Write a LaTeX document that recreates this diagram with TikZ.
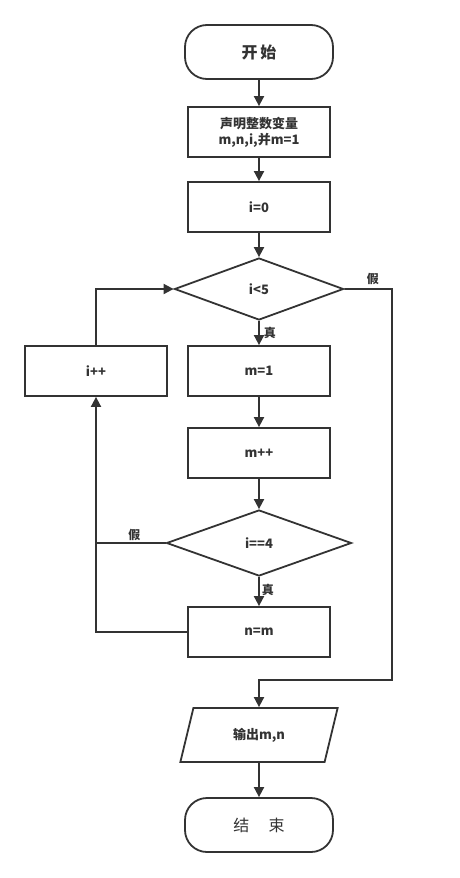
\documentclass[tikz,border=0pt]{standalone}
\usepackage{fontspec}
\setmainfont{Noto Sans CJK SC}
\usetikzlibrary{arrows.meta,shapes.geometric,calc}
\definecolor{ln}{HTML}{333333}
\tikzset{
  base/.style={draw=ln,line width=1.8pt,text=ln,font=\fontsize{13}{16}\selectfont\bfseries,align=center,inner sep=0pt},
  proc/.style={base,rectangle,minimum width=142pt,minimum height=50pt},
  term/.style={base,rectangle,rounded corners=22pt,minimum width=148pt,minimum height=54pt,font=\fontsize{16}{19}\selectfont},
  dec/.style={base,diamond,aspect=2.7,minimum width=169pt,minimum height=62pt},
  io/.style={base,trapezium,trapezium left angle=70,trapezium right angle=110,minimum width=158pt,minimum height=54pt,trapezium stretches=true},
  arr/.style={draw=ln,line width=1.8pt,-{Triangle[length=10pt,width=10pt]}},
  ln/.style={draw=ln,line width=1.8pt},
  lab/.style={text=ln,font=\fontsize{12}{14}\selectfont\bfseries,inner sep=1pt}
}
\begin{document}
\begin{tikzpicture}[x=1pt,y=-1pt]
\useasboundingbox (0,0) rectangle (459,878);
\node[term,font=\fontsize{16}{19}\selectfont\bfseries] (start) at (259,52) {开\,始};
\node[proc] (decl) at (259,132) {声明整数变量\\m,n,i,并m=1};
\node[proc] (init) at (259,207) {i=0};
\node[dec] (d1) at (259,289) {i<5};
\node[proc] (inc) at (96,371) {i++};
\node[proc] (m1) at (259,371) {m=1};
\node[proc] (mpp) at (259,453) {m++};
\node[dec,minimum width=185pt,minimum height=66pt] (d2) at (259,543) {i==4};
\node[proc] (nm) at (259,632) {n=m};
\node[io] (out) at (259,735) {输出m,n};
\node[term] (stop) at (259,825) {结\hspace{1.2em}束};
\coordinate (j1) at (96,543);
\coordinate (j2) at (96,632);
\coordinate (k1) at (96,289);
\coordinate (r1) at (392,289);
\coordinate (r2) at (392,680);
\coordinate (r3) at (259,680);
\draw[arr] (start) -- (decl);
\draw[arr] (decl) -- (init);
\draw[arr] (init) -- (d1);
\draw[arr] (d1) -- node[lab,pos=0.5,right=3pt] {真} (m1);
\draw[arr] (m1) -- (mpp);
\draw[arr] (mpp) -- (d2);
\draw[arr] (d2) -- node[lab,pos=0.45,right=1pt] {真} (nm);
\draw[arr] (d2.west) -- node[lab,pos=0.45,above=0pt] {假} (j1) -- (inc.south);
\draw[ln] (nm.west) -- (j2) -- (j1);
\draw[arr] (inc.north) -- (k1) -- (d1.west);
\draw[arr] (d1.east) -- node[lab,pos=0.6,above=2pt] {假} (r1) -- (r2) -- (r3) -- (out.north);
\draw[arr] (out) -- (stop);
\end{tikzpicture}
\end{document}
